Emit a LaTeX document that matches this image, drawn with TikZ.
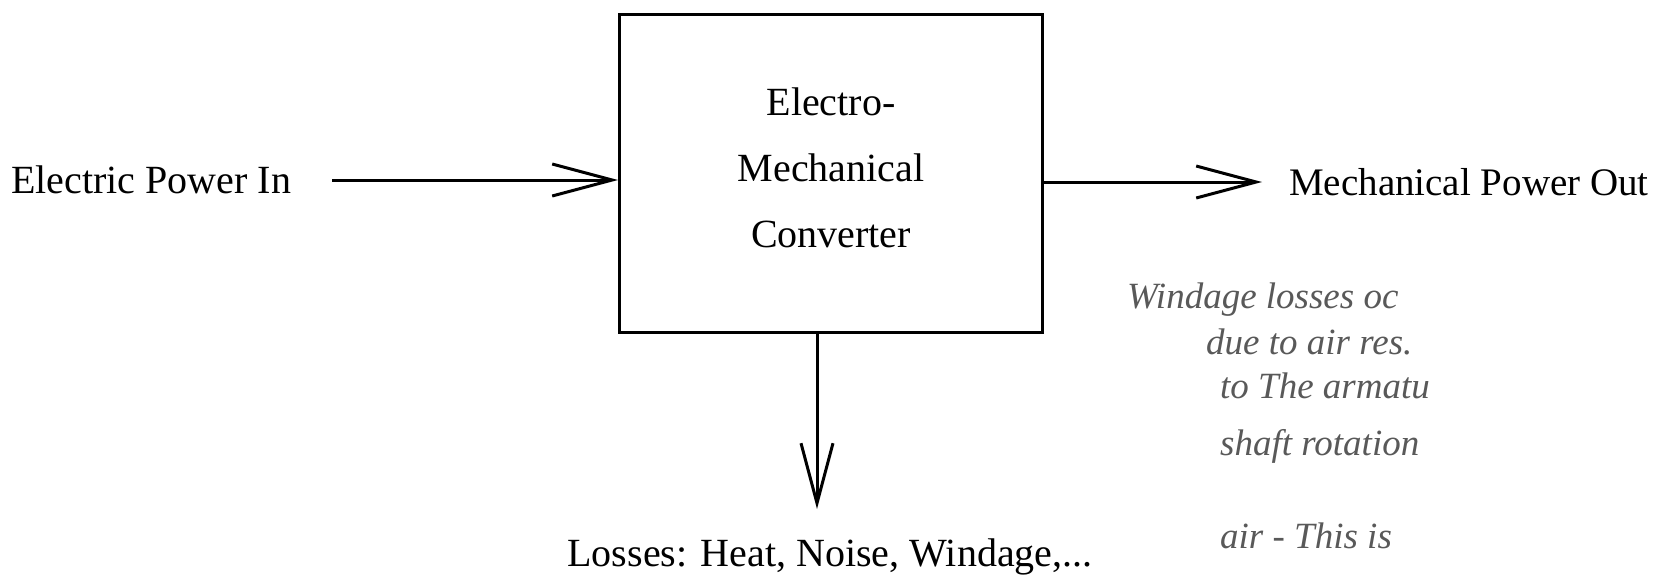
\documentclass[tikz,border=0pt]{standalone}
\usepackage{fontspec}
\setmainfont{Liberation Serif}
\usetikzlibrary{arrows.meta}
\tikzset{
  lbl/.style={font=\fontsize{40}{66}\selectfont, inner sep=0pt},
  conv box/.style={draw, line width=3pt, minimum width=423pt, minimum height=318pt, inner sep=0pt},
  flow/.style={line width=3pt, -{Straight Barb[length=60pt, width=32pt, line width=3pt]}},
  hand/.style={font=\fontsize{37}{37}\selectfont\itshape, text=black!65, inner sep=0pt, anchor=base west}
}
\begin{document}
\begin{tikzpicture}[x=1pt, y=-1pt]
\useasboundingbox (0,0) rectangle (1663,579);
\fill[white] (0,0) rectangle (1663,579);
\node[conv box] (conv) at (831,173) {};
\node[lbl, align=center] (convtext) at (831,168) {Electro-\\Mechanical\\Converter};
\node[lbl, anchor=base west] (in) at (11,193) {Electric Power In};
\node[lbl, anchor=base west, font=\fontsize{39}{39}\selectfont] (out) at (1289,195) {Mechanical Power Out};
\node[lbl, anchor=base] (loss) at (830,566) {Losses: Heat, Noise, Windage,...};
\coordinate (inA) at (332,180);
\coordinate (outB) at (1262,182);
\coordinate (lossA) at (817,509);
\draw[flow] (inA) -- (inA -| conv.west);
\draw[flow] (outB -| conv.east) -- (outB);
\draw[flow] (lossA |- conv.south) -- (lossA);
\begin{scope}
\clip (0,0) rectangle (1663,579);
\node[hand] (h1) at (1127,308) {Windage losses oc};
\node[hand] (h2) at (1206,354) {due to air res.};
\node[hand] (h3) at (1220,398) {to The armatu};
\node[hand] (h4) at (1220,455) {shaft rotation};
\node[hand] (h5) at (1220,548) {air - This is};
\end{scope}
\end{tikzpicture}
\end{document}
